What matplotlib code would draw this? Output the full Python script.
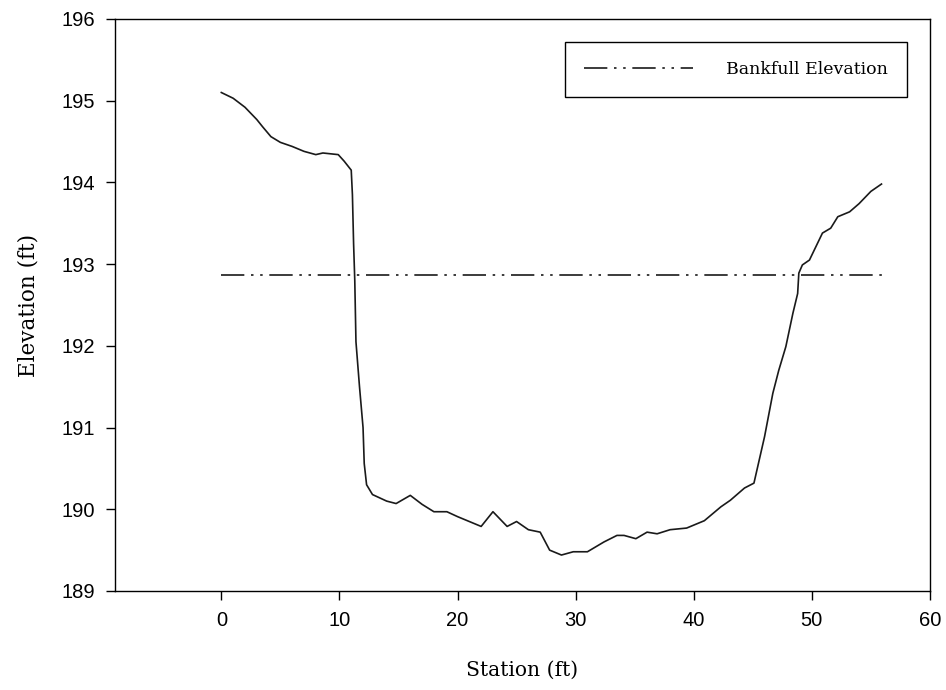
import matplotlib
matplotlib.use('Agg')
import matplotlib.pyplot as plt

# channel cross-section survey (station vs elevation, ft)
station = [0, 1, 2, 3, 3.5, 4.2, 5, 6, 7, 8, 8.6, 9.9, 10.4, 11.0, 11.1, 11.2,
           11.3, 11.4, 11.7, 12.0, 12.1, 12.3, 12.8, 14, 14.8, 16.0, 17.0, 18,
           19.1, 20, 21, 22.0, 23.0, 24.2, 25.0, 26.0, 27.0, 27.8, 28.8, 29.8,
           31.0, 32.4, 33.5, 34.1, 35.1, 36.05, 36.9, 38.0, 39.4, 40.9, 42.3,
           43.1, 44.3, 45.1, 46.0, 46.7, 47.2, 47.8, 48.4, 48.8, 48.9, 49.2,
           49.8, 50.9, 51.6, 52.2, 53.2, 54.0, 55.0, 55.9]
elevation = [195.10, 195.03, 194.92, 194.77, 194.68, 194.56, 194.49, 194.44,
             194.38, 194.34, 194.36, 194.34, 194.26, 194.15, 193.85, 193.25,
             192.80, 192.05, 191.50, 191.00, 190.56, 190.30, 190.18, 190.10,
             190.07, 190.17, 190.06, 189.97, 189.97, 189.91, 189.85, 189.79,
             189.97, 189.79, 189.85, 189.75, 189.72, 189.50, 189.44, 189.48,
             189.48, 189.60, 189.68, 189.68, 189.64, 189.72, 189.70, 189.75,
             189.77, 189.86, 190.03, 190.11, 190.26, 190.32, 190.89, 191.42,
             191.70, 191.99, 192.40, 192.64, 192.89, 192.99, 193.05, 193.38,
             193.44, 193.58, 193.64, 193.74, 193.89, 193.98]

bankfull_x = [0, 56]
bankfull_y = [192.87, 192.87]

xticks = [0, 10, 20, 30, 40, 50, 60]
yticks = [189, 190, 191, 192, 193, 194, 195, 196]

fig = plt.figure(figsize=(9.46, 6.9), dpi=100)
ax = fig.add_axes([0.1216, 0.1435, 0.8614, 0.829])

ax.plot(station, elevation, color='#1a1a1a', lw=1.2)
ax.plot(bankfull_x, bankfull_y, color='#1a1a1a', lw=1.2,
        dashes=(14, 4, 1.5, 4, 1.5, 4), label='Bankfull Elevation')

ax.set_xlim(-9, 60)
ax.set_ylim(189, 196)
ax.set_xticks(xticks)
ax.set_yticks(yticks)
ax.tick_params(direction='out', length=6.5, width=1.0, labelsize=14.5, pad=8)
for lab in ax.get_xticklabels() + ax.get_yticklabels():
    lab.set_family('Liberation Sans')
for s in ax.spines.values():
    s.set_linewidth(1.0)

ax.set_xlabel('Station (ft)', family='DejaVu Serif', fontsize=14.6, labelpad=22)
ax.set_ylabel('Elevation (ft)', family='DejaVu Serif', fontsize=15.5, labelpad=16)

leg = ax.legend(loc='upper right', bbox_to_anchor=(0.972, 0.96),
                prop={'family': 'DejaVu Serif', 'size': 12.5},
                fancybox=False, edgecolor='black', framealpha=1,
                handlelength=6.3, handletextpad=1.9, borderpad=1.1,
                borderaxespad=0)
leg.get_frame().set_linewidth(1.0)

fig.savefig('out.png', dpi=100)
